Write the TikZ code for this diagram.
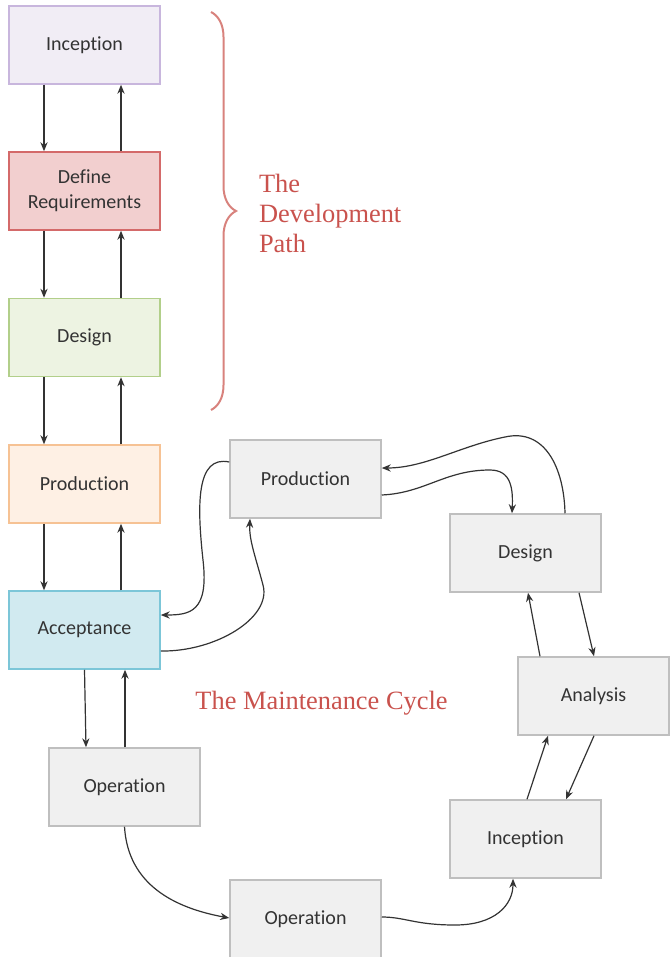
\documentclass[tikz,border=0pt]{standalone}
\usepackage{fontspec}
\setmainfont{Liberation Serif}
\newfontfamily\boxfont[Ligatures=NoCommon]{Carlito}
\usetikzlibrary{calc,arrows.meta,decorations.pathreplacing}

\definecolor{inkgray}{HTML}{333333}
\definecolor{linegray}{HTML}{333333}
\definecolor{titlered}{HTML}{C9524D}
\definecolor{bracered}{HTML}{D8827D}
\definecolor{incfill}{HTML}{F1EDF5}\definecolor{incdraw}{HTML}{C8B6DD}
\definecolor{reqfill}{HTML}{F2CFCF}\definecolor{reqdraw}{HTML}{D46A6A}
\definecolor{desfill}{HTML}{EDF3E2}\definecolor{desdraw}{HTML}{B2CF8A}
\definecolor{prodfill}{HTML}{FEF0E4}\definecolor{proddraw}{HTML}{F6C294}
\definecolor{accfill}{HTML}{D1EAF0}\definecolor{accdraw}{HTML}{7CC6D8}
\definecolor{grayfill}{HTML}{F0F0F0}\definecolor{graydraw}{HTML}{BFBFBF}

\tikzset{
  stagebox/.style={rectangle, minimum width=75.5pt, minimum height=39pt,
    inner sep=0pt, line width=0.75pt, align=center,
    font=\boxfont\fontsize{10}{12.5}\selectfont, text=inkgray},
  graybox/.style={stagebox, fill=grayfill, draw=graydraw},
  flow/.style={draw=linegray, line width=0.6pt,
    -{Stealth[length=4.5pt,width=3.6pt]}},
  caption/.style={font=\fontsize{13.2}{15}\selectfont, text=titlered, align=left}
}

\begin{document}
\begin{tikzpicture}[x=0.5pt, y=-0.5pt]
  \useasboundingbox (0,0) rectangle (670,957);

  % development path
  \node[stagebox, fill=incfill,  draw=incdraw]  (inc1) at (84.5,45)    {Inception};
  \node[stagebox, fill=reqfill,  draw=reqdraw]  (req1) at (84.5,191)   {Define\\Requirements};
  \node[stagebox, fill=desfill,  draw=desdraw]  (des1) at (84.5,337.5) {Design};
  \node[stagebox, fill=prodfill, draw=proddraw] (prod1) at (84.5,484)  {Production};
  \node[stagebox, fill=accfill,  draw=accdraw]  (acc1) at (84.5,630)   {Acceptance};
  \node[graybox] (op1) at (124.5,787) {Operation};

  % maintenance cycle
  \node[graybox] (prod2) at (305.5,479) {Production};
  \node[graybox] (des2)  at (525.5,553) {Design};
  \node[graybox] (ana2)  at (593.5,696) {Analysis};
  \node[graybox] (inc2)  at (525.5,839) {Inception};
  \node[graybox] (op2)   at (305.5,919) {Operation};

  % straight links of the development path
  \foreach \a/\b in {inc1/req1, req1/des1, des1/prod1, prod1/acc1}{
    \draw[flow] ($(\a.south)+(-40.5,0)$) -- ($(\b.north)+(-40.5,0)$);
    \draw[flow] ($(\b.north)+(36.5,0)$) -- ($(\a.south)+(36.5,0)$);
  }
  \draw[flow] ($(acc1.south)+(0,0)$) -- ($(op1.north)+(-38.5,0)$);
  \draw[flow] ($(op1.north)+(0.5,0)$) -- ($(acc1.south)+(40.5,0)$);

  % acceptance <-> production
  \draw[flow] ($(acc1.east)+(0,21)$)
     .. controls (215,652) and (272,618) .. (263,585)
     .. controls (255,555) and (249,540) .. ($(prod2.south)+(-55.5,0)$);
  \draw[flow] ($(prod2.west)+(0,-17)$)
     .. controls (196,455) and (197,505) .. (203,560)
     .. controls (209,612) and (190,615) .. ($(acc1.east)+(0,-15)$);

  % production <-> design
  \draw[flow] ($(prod2.east)+(0,16)$)
     .. controls (425,493) and (445,470) .. (490,470)
     .. controls (512,470) and (513,490) .. ($(des2.north)+(-13.5,0)$);
  \draw[flow] ($(des2.north)+(39.5,0)$)
     .. controls (564,468) and (545,428) .. (505,437)
     .. controls (460,446) and (425,468) .. ($(prod2.east)+(0,-11)$);

  % design <-> analysis <-> inception
  \draw[flow] ($(ana2.north)+(-53.5,0)$) -- ($(des2.south)+(2.5,0)$);
  \draw[flow] ($(des2.south)+(53.5,0)$) -- ($(ana2.north)+(0.5,0)$);
  \draw[flow] ($(inc2.north)+(1.5,0)$) -- ($(ana2.south)+(-45.5,0)$);
  \draw[flow] ($(ana2.south)+(0.5,0)$) -- ($(inc2.north)+(40.5,0)$);

  % operation -> operation -> inception
  \draw[flow] (op1.south)
     .. controls (128,885) and (175,908) .. ($(op2.west)+(0,-1)$);
  \draw[flow] ($(op2.east)+(0,-2)$)
     .. controls (405,917) and (415,925) .. (455,925)
     .. controls (495,925) and (513,905) .. ($(inc2.south)+(-12.5,0)$);

  % brace and captions
  \coordinate (bracetop) at (211,12);
  \coordinate (bracebot) at (211,410);
  \draw[bracered, line width=1pt, decorate,
        decoration={brace, amplitude=12.5pt}] (bracetop) -- (bracebot);
  \node[caption, anchor=west] (devpath) at (252,213) {The\\Development\\Path};
  \node[caption, anchor=center] (maint) at (321.5,703) {The Maintenance Cycle};
\end{tikzpicture}
\end{document}
